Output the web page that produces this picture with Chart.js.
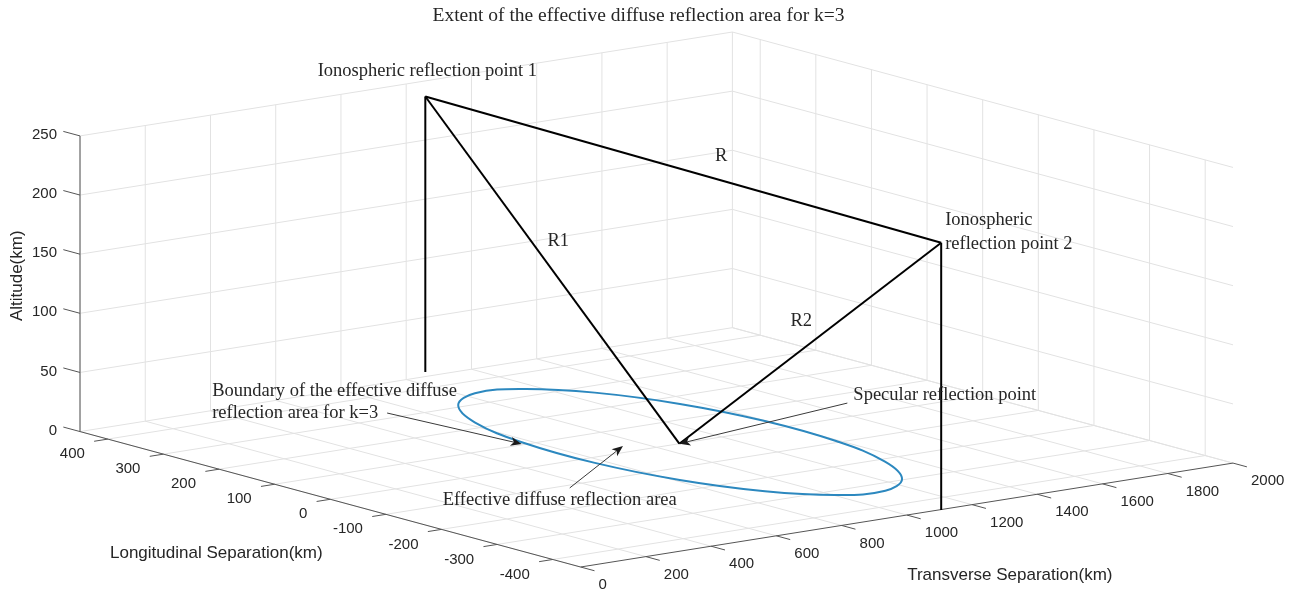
<!DOCTYPE html>
<html>
<head>
<meta charset="utf-8">
<title>Effective diffuse reflection area</title>
<script src="https://cdn.jsdelivr.net/npm/chart.js@4.4.1/dist/chart.umd.min.js"></script>
<style>
  html, body { margin: 0; padding: 0; background: #ffffff; }
  #wrap { width: 1301px; height: 590px; }
</style>
</head>
<body>
<div id="wrap"><canvas id="chart" width="1301" height="590"></canvas></div>
<script>
// ---- axis limits and ticks (km) ----
const transverseLimits = [0, 2000];
const longitudinalLimits = [-450, 450];
const altitudeLimits = [0, 250];
const transverseTicks = [0, 200, 400, 600, 800, 1000, 1200, 1400, 1600, 1800, 2000];
const longitudinalTicks = [-400, -300, -200, -100, 0, 100, 200, 300, 400];
const altitudeTicks = [0, 50, 100, 150, 200, 250];

// ---- camera (degrees) ----
const viewAzimuth = -37.5;
const viewElevation = 30;

// ---- geometry [transverse, longitudinal, altitude] in km ----
const ionoPoint1 = [1091, 469, 233];
const ionoPoint2 = [1102, -452, 226];
const specularPoint = [1070, 0, 0];

// ---- boundary of the effective diffuse reflection area (ground, km) ----
const boundaryTransverse   = [1248, 1132, 1008, 896, 812, 770, 776, 828, 919, 1035, 1159, 1271, 1355, 1397, 1391, 1339];
const boundaryLongitudinal = [-296, -334, -320, -256, -152, -24, 108, 226, 309, 347, 333, 270, 166, 38, -95, -212];

// ---- ground anchors for the callout arrows [transverse, longitudinal] ----
const boundaryArrowTail = [725, 323];
const boundaryArrowHead = [764, 104];
const areaArrowTail = [543, -112];
const areaArrowHead = [945, 28];
const specularArrowTail = [1684, 58];

// ---- orthographic projection of the plot box ----
const az = viewAzimuth * Math.PI / 180;
const el = viewElevation * Math.PI / 180;
function project(x, y, z) {
  const X = (x - transverseLimits[0]) / (transverseLimits[1] - transverseLimits[0]) - 0.5;
  const Y = (y - longitudinalLimits[0]) / (longitudinalLimits[1] - longitudinalLimits[0]) - 0.5;
  const Z = (z - altitudeLimits[0]) / (altitudeLimits[1] - altitudeLimits[0]) - 0.5;
  return {
    x: X * Math.cos(az) + Y * Math.sin(az),
    y: -X * Math.sin(az) * Math.sin(el) + Y * Math.cos(az) * Math.sin(el) + Z * Math.cos(el)
  };
}

// screen extent of the box
let uMin = Infinity, uMax = -Infinity, vMin = Infinity, vMax = -Infinity;
for (const x of transverseLimits) for (const y of longitudinalLimits) for (const z of altitudeLimits) {
  const p = project(x, y, z);
  uMin = Math.min(uMin, p.x); uMax = Math.max(uMax, p.x);
  vMin = Math.min(vMin, p.y); vMax = Math.max(vMax, p.y);
}

const [x0, x1] = transverseLimits, [y0, y1] = longitudinalLimits, [z0, z1] = altitudeLimits;
const gridColor = '#e2e2e2';
const axisColor = '#555555';
const textColor = '#262626';

const layers = [];   // back to front
function polyline(pts, color, width, extra) {
  layers.push(Object.assign({
    data: pts.map(p => project(p[0], p[1], p[2])),
    showLine: true, borderColor: color, borderWidth: width,
    pointRadius: 0, pointHoverRadius: 0, fill: false, clip: false, tension: 0
  }, extra || {}));
}

// grid: floor, back wall (y = max), side wall (x = max)
for (const x of transverseTicks) polyline([[x, y0, z0], [x, y1, z0]], gridColor, 1);
for (const y of longitudinalTicks) polyline([[x0, y, z0], [x1, y, z0]], gridColor, 1);
for (const x of transverseTicks) polyline([[x, y1, z0], [x, y1, z1]], gridColor, 1);
for (const z of altitudeTicks) polyline([[x0, y1, z], [x1, y1, z]], gridColor, 1);
for (const y of longitudinalTicks) polyline([[x1, y, z0], [x1, y, z1]], gridColor, 1);
for (const z of altitudeTicks) polyline([[x1, y0, z], [x1, y1, z]], gridColor, 1);

// axis lines and tick marks
polyline([[x0, y1, z0], [x0, y1, z1]], axisColor, 1);
polyline([[x0, y0, z0], [x0, y1, z0]], axisColor, 1);
polyline([[x0, y0, z0], [x1, y0, z0]], axisColor, 1);
for (const z of altitudeTicks) polyline([[x0, y1, z], [x0, y1 + 30, z]], axisColor, 1);
for (const y of longitudinalTicks) polyline([[x0, y, z0], [x0 - 42, y, z0]], axisColor, 1);
for (const x of transverseTicks) polyline([[x, y0, z0], [x, y0 - 25, z0]], axisColor, 1);

// boundary curve, closed smoothly by wrapping and hiding the two end pieces
const ellipseColor = '#2c88bf';
{
  const ring = boundaryTransverse.map((x, i) => [x, boundaryLongitudinal[i], 0]);
  const n = ring.length;
  const wrapped = [ring[n - 1], ...ring, ring[0], ring[1]];
  const last = wrapped.length - 1;
  polyline(wrapped, ellipseColor, 2, {
    tension: 0.4,
    segment: {
      borderColor: c => (c.p0DataIndex === 0 || c.p1DataIndex === last) ? 'rgba(0,0,0,0)' : ellipseColor
    }
  });
}

// propagation paths and verticals
const foot1 = [ionoPoint1[0], ionoPoint1[1], 0];
const foot2 = [ionoPoint2[0], ionoPoint2[1], 0];
polyline([foot1, ionoPoint1], '#000000', 2);
polyline([foot2, ionoPoint2], '#000000', 2);
polyline([ionoPoint1, ionoPoint2], '#000000', 2);
polyline([ionoPoint1, specularPoint], '#000000', 2);
polyline([ionoPoint2, specularPoint], '#000000', 2);

layers.forEach((d, i) => { d.order = layers.length - i; });

const serif = '"Liberation Serif", "Times New Roman", serif';
const sans = '"Liberation Sans", Arial, Helvetica, sans-serif';

const labelsPlugin = {
  id: 'labels3d',
  afterDraw(chart) {
    const ctx = chart.ctx;
    const sx = chart.scales.x, sy = chart.scales.y;
    const pix = (x, y, z) => {
      const p = project(x, y, z);
      return [sx.getPixelForValue(p.x), sy.getPixelForValue(p.y)];
    };
    const text = (s, px, py, align, font, color, rot) => {
      ctx.save();
      ctx.font = font;
      ctx.fillStyle = color || textColor;
      ctx.textAlign = align;
      ctx.textBaseline = 'middle';
      ctx.translate(px, py);
      if (rot) ctx.rotate(rot);
      ctx.fillText(s, 0, 0);
      ctx.restore();
    };
    const arrow = (a, b) => {
      const ang = Math.atan2(b[1] - a[1], b[0] - a[0]);
      const len = 11, half = 4.5, notch = 3;
      const c = Math.cos(ang), s = Math.sin(ang);
      const back = [b[0] - len * c, b[1] - len * s];
      ctx.save();
      ctx.strokeStyle = '#3a3a3a';
      ctx.lineWidth = 1;
      ctx.beginPath();
      ctx.moveTo(a[0], a[1]);
      ctx.lineTo(back[0] + notch * c, back[1] + notch * s);
      ctx.stroke();
      ctx.fillStyle = '#1a1a1a';
      ctx.beginPath();
      ctx.moveTo(b[0], b[1]);
      ctx.lineTo(back[0] - half * s, back[1] + half * c);
      ctx.lineTo(back[0] + notch * c, back[1] + notch * s);
      ctx.lineTo(back[0] + half * s, back[1] - half * c);
      ctx.closePath();
      ctx.fill();
      ctx.restore();
    };

    const tickFont = '15px ' + sans;
    const labelFont = '17px ' + sans;
    const noteFont = '18.5px ' + serif;

    // tick labels
    for (const z of altitudeTicks) {
      const p = pix(x0, y1, z);
      text(String(z), p[0] - 23, p[1] - 1, 'right', tickFont);
    }
    for (const y of longitudinalTicks) {
      const p = pix(x0, y, z0);
      text(String(y), p[0] - 23, p[1] + 15, 'right', tickFont);
    }
    for (const x of transverseTicks) {
      const p = pix(x, y0, z0);
      text(String(x), p[0] + 18, p[1] + 18, 'left', tickFont);
    }

    // axis titles
    {
      const pz = pix(x0, y1, (z0 + z1) / 2);
      text('Altitude(km)', pz[0] - 63, pz[1] - 8, 'center', labelFont, textColor, -Math.PI / 2);
      const py = pix(x0, (y0 + y1) / 2, z0);
      text('Longitudinal Separation(km)', py[0] - 114, py[1] + 54, 'center', labelFont);
      const px = pix((x0 + x1) / 2, y0, z0);
      text('Transverse Separation(km)', px[0] + 103, px[1] + 60, 'center', labelFont);
    }

    // title
    const area = chart.chartArea;
    text('Extent of the effective diffuse reflection area for k=3', (area.left + area.right) / 2 - 18, 16, 'center', '19.5px ' + serif);

    // point and path labels
    const p1 = pix(...ionoPoint1), p2 = pix(...ionoPoint2), sp = pix(...specularPoint);
    text('Ionospheric reflection point 1', p1[0] + 2, p1[1] - 25, 'center', noteFont);
    text('Ionospheric', p2[0] + 4, p2[1] - 23, 'left', noteFont);
    text('reflection point 2', p2[0] + 4, p2[1] + 1, 'left', noteFont);
    const mid = (a, b) => [(a[0] + b[0]) / 2, (a[1] + b[1]) / 2];
    const mR = mid(p1, p2), mR1 = mid(p1, sp), mR2 = mid(p2, sp);
    text('R', mR[0] + 38, mR[1] - 13, 'center', noteFont);
    text('R1', mR1[0] + 6, mR1[1] - 29, 'center', noteFont);
    text('R2', mR2[0] - 9, mR2[1] - 22, 'center', noteFont);

    // callouts
    const bt = pix(boundaryArrowTail[0], boundaryArrowTail[1], 0);
    const bh = pix(boundaryArrowHead[0], boundaryArrowHead[1], 0);
    arrow(bt, bh);
    text('Boundary of the effective diffuse', bt[0] - 175, bt[1] - 22, 'left', noteFont);
    text('reflection area for k=3', bt[0] - 175, bt[1], 'left', noteFont);

    const at = pix(areaArrowTail[0], areaArrowTail[1], 0);
    const ah = pix(areaArrowHead[0], areaArrowHead[1], 0);
    arrow(at, ah);
    text('Effective diffuse reflection area', at[0] - 10, at[1] + 12, 'center', noteFont);

    const st = pix(specularArrowTail[0], specularArrowTail[1], 0);
    arrow(st, sp);
    text('Specular reflection point', st[0] + 6, st[1] - 8, 'left', noteFont);
  }
};

new Chart(document.getElementById('chart'), {
  type: 'scatter',
  data: { datasets: layers },
  options: {
    responsive: false,
    animation: false,
    devicePixelRatio: 1,
    events: [],
    layout: { padding: { left: 80, right: 68, top: 32, bottom: 23 } },
    plugins: { legend: { display: false }, tooltip: { enabled: false }, title: { display: false } },
    scales: {
      x: { type: 'linear', display: false, min: uMin, max: uMax },
      y: { type: 'linear', display: false, min: vMin, max: vMax }
    }
  },
  plugins: [labelsPlugin]
});
</script>
</body>
</html>
